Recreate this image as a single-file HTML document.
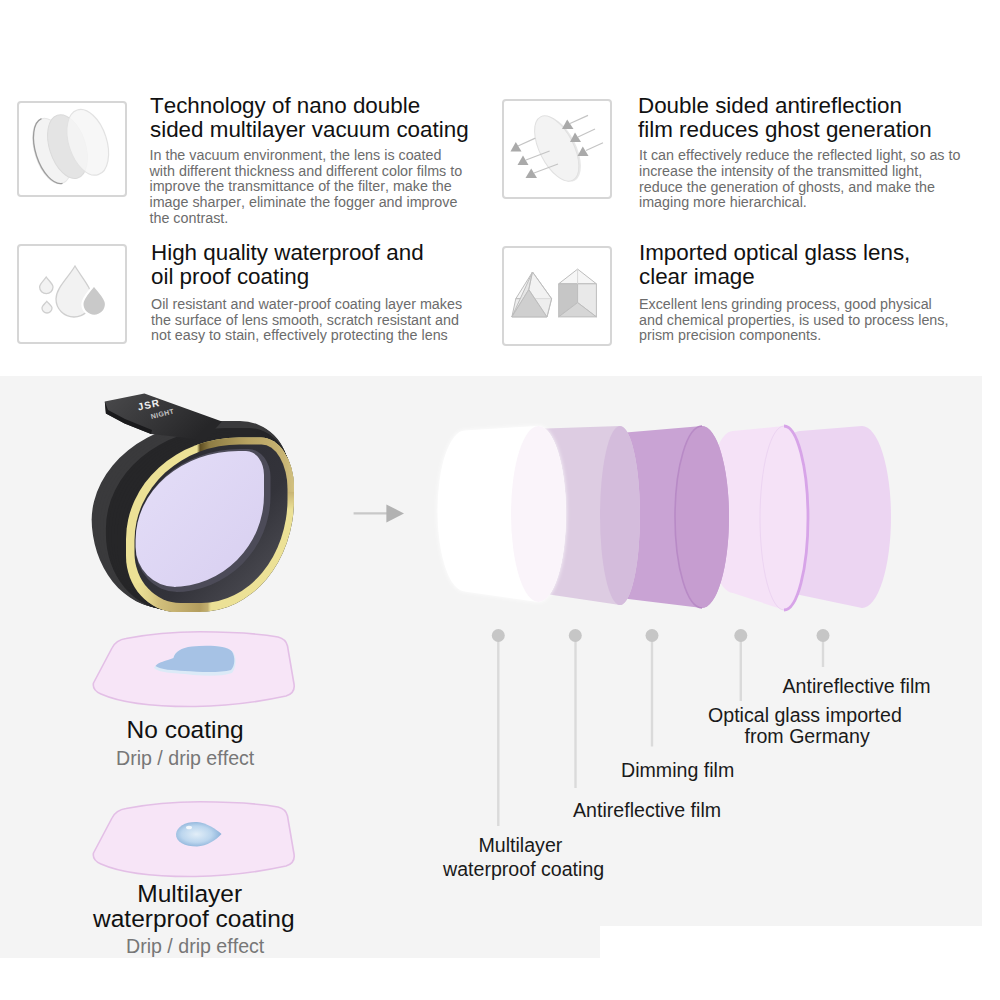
<!DOCTYPE html>
<html><head><meta charset="utf-8">
<style>
html,body{margin:0;padding:0;}
body{width:1000px;height:1000px;position:relative;overflow:hidden;background:#fff;font-family:"Liberation Sans",sans-serif;}
.abs{position:absolute;}
.box{position:absolute;border:2px solid #d6d6d6;border-radius:4px;box-sizing:border-box;background:#fff;}
.gray{position:absolute;left:0;top:376px;width:982px;height:582px;background:#f4f4f4;}
.ln{position:absolute;white-space:nowrap;line-height:1;font-kerning:none;}
svg{position:absolute;left:0;top:0;overflow:visible;}
</style></head><body>

<!-- top boxes -->
<div class="box" style="left:17px;top:101px;width:110px;height:96px;"></div>
<div class="box" style="left:17px;top:244px;width:110px;height:100px;"></div>
<div class="box" style="left:502px;top:99px;width:110px;height:100px;"></div>
<div class="box" style="left:502px;top:246px;width:110px;height:100px;"></div>

<!-- gray section -->
<div class="gray"></div>
<div class="abs" style="left:600px;top:926px;width:382px;height:32px;background:#fff;"></div>


<svg width="1000" height="1000" viewBox="0 0 1000 1000">
<defs>
  <radialGradient id="dropg" cx="0.45" cy="0.5" r="0.6">
    <stop offset="0" stop-color="#e2eef8"/><stop offset="0.55" stop-color="#bcd6ee"/><stop offset="1" stop-color="#7ea8d4"/>
  </radialGradient>
  <linearGradient id="goldg" x1="0" y1="0" x2="1" y2="0">
    <stop offset="0" stop-color="#efe4a0"/><stop offset="0.3" stop-color="#e6d890"/><stop offset="0.5" stop-color="#9c8a4c"/><stop offset="0.62" stop-color="#d9c77c"/><stop offset="1" stop-color="#f3e8a4"/>
  </linearGradient>
  <linearGradient id="tabg" x1="0" y1="0" x2="1" y2="0.4">
    <stop offset="0" stop-color="#4a4a4c"/><stop offset="1" stop-color="#262628"/>
  </linearGradient>
  <linearGradient id="innerg" x1="0" y1="0" x2="1" y2="1">
    <stop offset="0" stop-color="#2a2a30"/><stop offset="0.6" stop-color="#33333a"/><stop offset="1" stop-color="#55555c"/>
  </linearGradient>
  <linearGradient id="bodyg" x1="0" y1="0" x2="1" y2="0">
    <stop offset="0" stop-color="#38383a"/><stop offset="0.2" stop-color="#2c2c2e"/><stop offset="1" stop-color="#262628"/>
  </linearGradient>
  <linearGradient id="glassg" x1="0" y1="0" x2="1" y2="1">
    <stop offset="0" stop-color="#e4def8"/><stop offset="1" stop-color="#d8cff0"/>
  </linearGradient>
  <linearGradient id="goldtop" gradientUnits="userSpaceOnUse" x1="197" y1="0" x2="300" y2="0">
    <stop offset="0" stop-color="#ece196"/><stop offset="0.03" stop-color="#5e4e22"/><stop offset="0.12" stop-color="#8e7c44"/><stop offset="0.5" stop-color="#b8a362"/><stop offset="0.85" stop-color="#c8b474"/><stop offset="1" stop-color="#d8c886"/>
  </linearGradient>
  <linearGradient id="goldfade" gradientUnits="userSpaceOnUse" x1="0" y1="492" x2="0" y2="510">
    <stop offset="0" stop-color="#c8b474" stop-opacity="1"/><stop offset="1" stop-color="#c8b474" stop-opacity="0"/>
  </linearGradient>
  <linearGradient id="goldbot" gradientUnits="userSpaceOnUse" x1="130" y1="0" x2="212" y2="0">
    <stop offset="0" stop-color="#ece196" stop-opacity="0"/><stop offset="0.35" stop-color="#d2bf7c"/><stop offset="0.85" stop-color="#b39d5e"/><stop offset="0.95" stop-color="#c4b070"/><stop offset="1" stop-color="#ece196" stop-opacity="0"/>
  </linearGradient>
  <filter id="glow" x="-20%" y="-20%" width="140%" height="140%"><feGaussianBlur stdDeviation="2.2"/></filter>
</defs>

<!-- ===== icon 1: discs ===== -->
<g>
  <ellipse cx="52" cy="151" rx="17" ry="34" transform="rotate(-18 52 151)" fill="#f3f3f3" stroke="#e6e6e6" stroke-width="1"/>
  <path d="M41.5,118.7 A17,34 -18 0 0 62.5,183.3" fill="none" stroke="#9c9c9c" stroke-width="1.3"/>
  <ellipse cx="67.5" cy="146.6" rx="18" ry="33" transform="rotate(-18 67.5 146.6)" fill="#e4e4e4" stroke="#dadada" stroke-width="1"/>
  <ellipse cx="87.7" cy="142.3" rx="19" ry="34" transform="rotate(-18 87.7 142.3)" fill="#f6f6f6" fill-opacity="0.85" stroke="#e2e2e2" stroke-width="1.2"/>
</g>

<!-- ===== icon 2: drops ===== -->
<g stroke="#cfcfcf" stroke-width="1.3" fill="#f2f2f2">
  <path d="M75,266 C82,278 92,288 92,299 A18,18 0 0 1 56,299 C56,288 68,278 75,266 Z"/>
  <path d="M94,285 C99,292 106,298 106,304 A11.8,11.8 0 0 1 82.4,304 C82.4,298 89,292 94,285 Z" fill="#c9c9c9" stroke="#fff" stroke-width="2.2"/>
  <path d="M46.2,277 C49,281 53,284 53,287 A6.6,6.6 0 0 1 39.6,287 C39.6,284 43.5,281 46.2,277 Z"/>
  <path d="M46.8,301.3 C49,304 52,306 52,308 A5,5 0 0 1 42,308 C42,306 44.5,304 46.8,301.3 Z"/>
</g>

<!-- ===== icon 3: antireflection ===== -->
<g>
  <ellipse cx="558.5" cy="149" rx="17.5" ry="35.5" transform="rotate(-27 558.5 149)" fill="#e8e8e8"/>
  <ellipse cx="556.7" cy="148.5" rx="17" ry="35.5" transform="rotate(-27 556.7 148.5)" fill="#f3f3f3" stroke="#e0e0e0" stroke-width="1"/>
  <g stroke="#c4c4c4" stroke-width="1.2">
    <line x1="588" y1="115.4" x2="570" y2="123.5"/>
    <line x1="595" y1="129" x2="578" y2="137"/>
    <line x1="603" y1="142.7" x2="586" y2="150.5"/>
    <line x1="535.3" y1="138.1" x2="518" y2="146"/>
    <line x1="549.6" y1="151" x2="526" y2="160"/>
    <line x1="558" y1="164" x2="534" y2="173"/>
  </g>
  <g fill="#aaaaaa">
    <polygon points="567.2,119.5 562,129 573.5,129"/>
    <polygon points="575,132.5 570,142 581,142"/>
    <polygon points="582.8,146.5 577.5,156 588.5,156"/>
    <polygon points="515.8,142 510.5,151.5 521.5,151.5"/>
    <polygon points="523,155.5 517.5,165 528.5,165"/>
    <polygon points="531.2,168.5 525.5,178 537,178"/>
  </g>
</g>

<!-- ===== icon 4: prisms ===== -->
<g stroke="#bdbdbd" stroke-width="1" stroke-linejoin="round">
  <polygon points="532.5,272 515.8,298.7 551.6,298.7" fill="#f4f4f4"/>
  <polygon points="515.8,298.7 551.6,298.7 547,316.9 511.9,316.9" fill="#ececec"/>
  <polygon points="532.5,272 528.8,289.6 511.9,316.9" fill="#e6e6e6"/>
  <polygon points="528.8,289.6 511.9,316.9 547,316.9" fill="#cfcfcf"/>
  <polygon points="532.5,272 551.6,298.7 547,316.9 528.8,289.6" fill="#f0f0f0" fill-opacity="0.6"/>
  <polygon points="577.6,269.1 558.7,283.8 596.4,283.8" fill="#f6f6f6"/>
  <polygon points="558.7,283.8 577.6,283.8 577.6,302.6 558.7,316.9" fill="#c6c6c6"/>
  <polygon points="577.6,283.8 596.4,283.8 596.4,316.9 577.6,302.6" fill="#e9e9e9"/>
  <polygon points="577.6,302.6 558.7,316.9 596.4,316.9" fill="#d6d6d6"/>
  <line x1="577.6" y1="269.1" x2="577.6" y2="283.8" stroke="#d8d8d8"/>
</g>

<!-- ===== arrow ===== -->
<line x1="353.6" y1="513.4" x2="387" y2="513.4" stroke="#c8c8c8" stroke-width="2.2"/>
<polygon points="386.4,504.4 404,513.4 386.4,522.4" fill="#b2b2b2"/>

<!-- ===== films ===== -->
<g>
  <path d="M800,431 L862,426 A29,91 0 0 1 862,608 L800,595 A27,82 0 0 1 800,431 Z" fill="#ecd5f2"/>
  <path d="M733,431 L784,426 A24,92 0 0 1 784,610 L733,593 A26,81 0 0 1 733,431 Z" fill="#f5e2f7"/>
  <path d="M784,426 A24,92 0 0 1 784,610" fill="none" stroke="#d7a4e8" stroke-width="2.8"/>
  <path d="M784,426 A24,92 0 0 0 784,610" fill="none" stroke="#ecd4f2" stroke-width="1"/>
  <path d="M620,433 L702,426 A27,91 0 0 1 702,608 L620,598 A20,82.5 0 0 1 620,433 Z" fill="#c9a3d4"/>
  <ellipse cx="702" cy="517" rx="27" ry="91" fill="#c69dd0"/>
  <path d="M702,426 A27,91 0 0 0 702,608" fill="none" stroke="#b88ac6" stroke-width="1.6"/>
  <path d="M546,428.5 L620,426 A20,89.5 0 0 1 620,605 L546,594 A27,82.75 0 0 1 546,428.5 Z" fill="#ddcce2"/>
  <ellipse cx="620" cy="515.5" rx="20" ry="89.5" fill="#d4bcdc"/>
  <path d="M465,430.5 L538.5,426 A27.5,88 0 0 1 538.5,602 L465,591.5 A27.5,80.5 0 0 1 465,430.5 Z" fill="#ffffff" filter="url(#glow)"/>
  <path d="M465,430.5 L538.5,426 A27.5,88 0 0 1 538.5,602 L465,591.5 A27.5,80.5 0 0 1 465,430.5 Z" fill="#ffffff"/>
  <ellipse cx="538.5" cy="514" rx="27.5" ry="88" fill="#faf4fa"/>
</g>

<!-- ===== dots & lines ===== -->
<g stroke="#dadada" stroke-width="2.4">
  <line x1="498.3" y1="636" x2="498.3" y2="826"/>
  <line x1="575.5" y1="636" x2="575.5" y2="788"/>
  <line x1="652" y1="636" x2="652" y2="746.5"/>
  <line x1="740.8" y1="636" x2="740.8" y2="701"/>
  <line x1="823" y1="636" x2="823" y2="667"/>
</g>
<g fill="#c6c6c6">
  <circle cx="498.3" cy="635.5" r="6.5"/>
  <circle cx="575.3" cy="635.5" r="6.5"/>
  <circle cx="652" cy="635.5" r="6.5"/>
  <circle cx="740.8" cy="635.5" r="6.5"/>
  <circle cx="823" cy="635.5" r="6.5"/>
</g>

<!-- ===== plates ===== -->
<g fill="#f7e5f7" stroke="#e3bfe6" stroke-width="1.6">
  <path d="M93.5,683 L112,648 Q116,640 126,638.5 Q160,632 200,631.8 Q250,632 278,637 Q286,639 287.5,646 L294,684 Q295.5,693 286,696 Q240,706 195,706.5 Q130,707 101,694 Q92,690 93.5,683 Z"/>
  <path d="M93.5,853 L112,818 Q116,810 126,808.5 Q160,802 200,801.8 Q250,802 278,807 Q286,809 287.5,816 L294,854 Q295.5,863 286,866 Q240,876 195,876.5 Q130,877 101,864 Q92,860 93.5,853 Z"/>
</g>
<path d="M154,668 C156,663 166,662 173,659 C174,653 180,648 192,647 C210,645 228,646 233,652 C237,658 236,668 232,673 C220,677 200,676 185,674 C172,673 160,673 154,668 Z" fill="#dceaf7"/>
<path d="M155.5,666 C158,662 166,661 173.5,658 C175,652 181,647.5 192,646.5 C210,645 227,646 232,651.5 C235.5,657 235,666 231,670 C220,673 200,672 185,671 C172,670 161,670 155.5,666 Z" fill="#a6c2e5"/>
<path d="M176,834 C177,826 186,821.5 197,822 C207,823 216,829 221.5,834 C216,840 207,846 197,846.5 C185,846.5 175.5,842 176,834 Z" fill="url(#dropg)"/>
<ellipse cx="189" cy="827.5" rx="3" ry="1.8" fill="#ffffff" fill-opacity="0.8"/>

<!-- ===== lens product ===== -->
<g>
  <g fill="#2c2c2e"><path fill="#3a3a3c" d="M91.6,521.0 A125.0,100.0 0 0 1 216.6,421.0 L240.0,421.0 A48.0,48.0 0 0 1 288.0,469.0 L288.0,496.0 A100.0,112.0 0 0 1 188.0,608.0 L163.6,608.0 A72.0,90.0 0 0 1 91.6,518.0 Z"/><path fill="#3a3a3c" d="M94.5,522.6 A124.0,100.2 0 0 1 218.5,422.4 L241.8,422.4 A46.8,48.2 0 0 1 288.5,470.6 L288.5,496.3 A99.5,112.0 0 0 1 189.0,608.3 L164.8,608.3 A70.2,87.2 0 0 1 94.5,521.1 Z"/><path fill="#3a3a3c" d="M97.3,524.1 A123.0,100.3 0 0 1 220.3,423.8 L243.5,423.8 A45.5,48.3 0 0 1 289.0,472.1 L289.0,496.7 A99.0,112.0 0 0 1 190.0,608.7 L165.8,608.7 A68.5,84.3 0 0 1 97.3,524.4 Z"/><path fill="#3a3a3c" d="M100.2,525.6 A122.0,100.5 0 0 1 222.2,425.1 L245.2,425.1 A44.2,48.5 0 0 1 289.5,473.6 L289.5,497.0 A98.5,112.0 0 0 1 191.0,609.0 L166.9,609.0 A66.8,81.5 0 0 1 100.2,527.5 Z"/><path fill="#3a3a3c" d="M103.1,527.2 A121.0,100.7 0 0 1 224.1,426.5 L247.0,426.5 A43.0,48.7 0 0 1 290.0,475.2 L290.0,497.3 A98.0,112.0 0 0 1 192.0,609.3 L168.1,609.3 A65.0,78.7 0 0 1 103.1,530.6 Z"/><path fill="#262628" d="M105.9,528.7 A120.0,100.8 0 0 1 225.9,427.9 L248.8,427.9 A41.8,48.8 0 0 1 290.5,476.7 L290.5,497.7 A97.5,112.0 0 0 1 193.0,609.7 L169.2,609.7 A63.2,75.8 0 0 1 105.9,533.9 Z"/><path fill="#262628" d="M108.8,530.2 A119.0,101.0 0 0 1 227.8,429.2 L250.5,429.2 A40.5,49.0 0 0 1 291.0,478.2 L291.0,498.0 A97.0,112.0 0 0 1 194.0,610.0 L170.3,610.0 A61.5,73.0 0 0 1 108.8,537.0 Z"/><path fill="#262628" d="M111.7,531.8 A118.0,101.2 0 0 1 229.7,430.6 L252.2,430.6 A39.2,49.2 0 0 1 291.5,479.8 L291.5,498.3 A96.5,112.0 0 0 1 195.0,610.3 L171.4,610.3 A59.8,70.2 0 0 1 111.7,540.1 Z"/><path fill="#262628" d="M114.5,533.3 A117.0,101.3 0 0 1 231.5,432.0 L254.0,432.0 A38.0,49.3 0 0 1 292.0,481.3 L292.0,498.7 A96.0,112.0 0 0 1 196.0,610.7 L172.5,610.7 A58.0,67.3 0 0 1 114.5,543.4 Z"/><path fill="#262628" d="M117.4,534.9 A116.0,101.5 0 0 1 233.4,433.4 L255.8,433.4 A36.8,49.5 0 0 1 292.5,482.9 L292.5,499.0 A95.5,112.0 0 0 1 197.0,611.0 L173.7,611.0 A56.2,64.5 0 0 1 117.4,546.5 Z"/><path fill="#262628" d="M120.3,536.5 A115.0,101.7 0 0 1 235.3,434.8 L257.5,434.8 A35.5,49.7 0 0 1 293.0,484.5 L293.0,499.3 A95.0,112.0 0 0 1 198.0,611.3 L174.8,611.3 A54.5,61.7 0 0 1 120.3,549.6 Z"/><path fill="#262628" d="M123.1,537.9 A114.0,101.8 0 0 1 237.1,436.1 L259.2,436.1 A34.2,49.8 0 0 1 293.5,485.9 L293.5,499.7 A94.5,112.0 0 0 1 199.0,611.7 L175.8,611.7 A52.8,58.8 0 0 1 123.1,552.9 Z"/><path fill="#262628" d="M126.0,539.5 A113.0,102.0 0 0 1 239.0,437.5 L261.0,437.5 A33.0,50.0 0 0 1 294.0,487.5 L294.0,500.0 A94.0,112.0 0 0 1 200.0,612.0 L177.0,612.0 A51.0,56.0 0 0 1 126.0,556.0 Z"/></g>

  <!-- tab -->
  <path d="M104.8,401.5 L144.4,393.4 L222,421.5 L205,440 L151,434 L124.6,423.5 L105.9,413.6 Z" fill="url(#tabg)"/>
  <path d="M104.8,401.5 L105.9,413.6 L124.6,423.5 L151,434 L152,430 L125,419 L108,410 Z" fill="#1a1a1c"/>
  <text x="0" y="0" transform="translate(138.5,410.5) rotate(-12)" font-size="10" font-weight="bold" fill="#f0f0f0" letter-spacing="1">JSR</text>
  <text x="0" y="0" transform="translate(151.5,419) rotate(-14)" font-size="7" font-weight="bold" fill="#c4c4c4" letter-spacing="0.4">NIGHT</text>
  <clipPath id="goldclip"><path d="M126,539.5 A113.0,102.0 0 0 1 239.0,437.5 L261.0,437.5 A33.0,50.0 0 0 1 294,487.5 L294,500.0 A94.0,112.0 0 0 1 200.0,612 L177.0,612 A51.0,56.0 0 0 1 126,556.0 Z"/></clipPath>
  <path d="M126,539.5 A113.0,102.0 0 0 1 239.0,437.5 L261.0,437.5 A33.0,50.0 0 0 1 294,487.5 L294,500.0 A94.0,112.0 0 0 1 200.0,612 L177.0,612 A51.0,56.0 0 0 1 126,556.0 Z" fill="#ece196"/>
  <g clip-path="url(#goldclip)">
    <rect x="197" y="420" width="105" height="72" fill="url(#goldtop)"/>
    <rect x="197" y="491.9" width="105" height="18" fill="url(#goldfade)"/>
    <rect x="130" y="583" width="82" height="40" fill="url(#goldbot)"/>
  </g>
  <path d="M134.5,540.5 A105.0,96.0 0 0 1 239.5,444.5 L261.5,444.5 A26.0,44.0 0 0 1 287.5,488.5 L287.5,499.0 A86.0,104.0 0 0 1 201.5,603 L180.5,603 A46.0,50.0 0 0 1 134.5,553.0 Z" fill="url(#innerg)"/>
  <path d="M135.6,540.0 A104.0,91.0 0 0 1 239.6,449 L248.5,449 A22.0,28.0 0 0 1 270.5,477.0 L270.5,496.0 A96.0,96.0 0 0 1 174.5,592 L177.6,592 A42.0,44.0 0 0 1 135.6,548.0 Z" fill="#4c4b58"/>
  <path d="M135.6,540.0 A103.0,89.0 0 0 1 238.6,451 L246.0,451 A18.0,24.0 0 0 1 264,475.0 L264,495.0 A92.0,92.0 0 0 1 172.0,587 L175.6,587 A40.0,40.0 0 0 1 135.6,547.0 Z" fill="url(#glassg)"/>
</g>
</svg>

<!-- labels -->


<!-- TEXT START -->
<div class="ln" style="left:150.0px;top:95.04px;font-size:22.4px;color:#111;">Technology of nano double</div>
<div class="ln" style="left:150.0px;top:119.04px;font-size:22.4px;color:#111;">sided multilayer vacuum coating</div>
<div class="ln" style="left:151.0px;top:242.04px;font-size:22.4px;color:#111;">High quality waterproof and</div>
<div class="ln" style="left:151.0px;top:266.04px;font-size:22.4px;color:#111;">oil proof coating</div>
<div class="ln" style="left:638.0px;top:95.24px;font-size:22.4px;color:#111;">Double sided antireflection</div>
<div class="ln" style="left:638.0px;top:119.04px;font-size:22.4px;color:#111;">film reduces ghost generation</div>
<div class="ln" style="left:639.0px;top:242.04px;font-size:22.4px;color:#111;">Imported optical glass lens,</div>
<div class="ln" style="left:639.0px;top:266.04px;font-size:22.4px;color:#111;">clear image</div>
<div class="ln" style="left:149.5px;top:147.88px;font-size:14.32px;color:#6c6c6c;">In the vacuum environment, the lens is coated</div>
<div class="ln" style="left:149.5px;top:163.68px;font-size:14.32px;color:#6c6c6c;">with different thickness and different color films to</div>
<div class="ln" style="left:149.5px;top:179.38px;font-size:14.32px;color:#6c6c6c;">improve the transmittance of the filter, make the</div>
<div class="ln" style="left:149.5px;top:195.18px;font-size:14.32px;color:#6c6c6c;">image sharper, eliminate the fogger and improve</div>
<div class="ln" style="left:149.5px;top:210.88px;font-size:14.32px;color:#6c6c6c;">the contrast.</div>
<div class="ln" style="left:151.0px;top:296.88px;font-size:14.32px;color:#6c6c6c;">Oil resistant and water-proof coating layer makes</div>
<div class="ln" style="left:151.0px;top:312.68px;font-size:14.32px;color:#6c6c6c;">the surface of lens smooth, scratch resistant and</div>
<div class="ln" style="left:151.0px;top:328.38px;font-size:14.32px;color:#6c6c6c;">not easy to stain, effectively protecting the lens</div>
<div class="ln" style="left:639.0px;top:148.08px;font-size:14.32px;color:#6c6c6c;">It can effectively reduce the reflected light, so as to</div>
<div class="ln" style="left:639.0px;top:163.88px;font-size:14.32px;color:#6c6c6c;">increase the intensity of the transmitted light,</div>
<div class="ln" style="left:639.0px;top:179.58px;font-size:14.32px;color:#6c6c6c;">reduce the generation of ghosts, and make the</div>
<div class="ln" style="left:639.0px;top:195.38px;font-size:14.32px;color:#6c6c6c;">imaging more hierarchical.</div>
<div class="ln" style="left:639.0px;top:296.88px;font-size:14.32px;color:#6c6c6c;">Excellent lens grinding process, good physical</div>
<div class="ln" style="left:639.0px;top:312.68px;font-size:14.32px;color:#6c6c6c;">and chemical properties, is used to process lens,</div>
<div class="ln" style="left:639.0px;top:328.38px;font-size:14.32px;color:#6c6c6c;">prism precision components.</div>
<div class="ln" style="left:782.5px;top:677.11px;font-size:19.6px;color:#1a1a1a;">Antireflective film</div>
<div class="ln" style="left:708.0px;top:705.91px;font-size:19.6px;color:#1a1a1a;">Optical glass imported</div>
<div class="ln" style="left:744.5px;top:726.81px;font-size:19.6px;color:#1a1a1a;">from Germany</div>
<div class="ln" style="left:621.0px;top:761.41px;font-size:19.6px;color:#1a1a1a;">Dimming film</div>
<div class="ln" style="left:573.0px;top:800.61px;font-size:19.6px;color:#1a1a1a;">Antireflective film</div>
<div class="ln" style="left:478.5px;top:836.41px;font-size:19.6px;color:#1a1a1a;">Multilayer</div>
<div class="ln" style="left:443.0px;top:860.41px;font-size:19.6px;color:#1a1a1a;">waterproof coating</div>
<div class="ln" style="left:126.5px;top:717.76px;font-size:24.5px;color:#111;">No coating</div>
<div class="ln" style="left:116.0px;top:749.31px;font-size:19.6px;color:#777;">Drip / drip effect</div>
<div class="ln" style="left:137.3px;top:882.26px;font-size:24.5px;color:#111;">Multilayer</div>
<div class="ln" style="left:93.0px;top:907.46px;font-size:24.5px;color:#111;">waterproof coating</div>
<div class="ln" style="left:126.0px;top:936.81px;font-size:19.6px;color:#777;">Drip / drip effect</div>
<!-- TEXT END -->
</body></html>
